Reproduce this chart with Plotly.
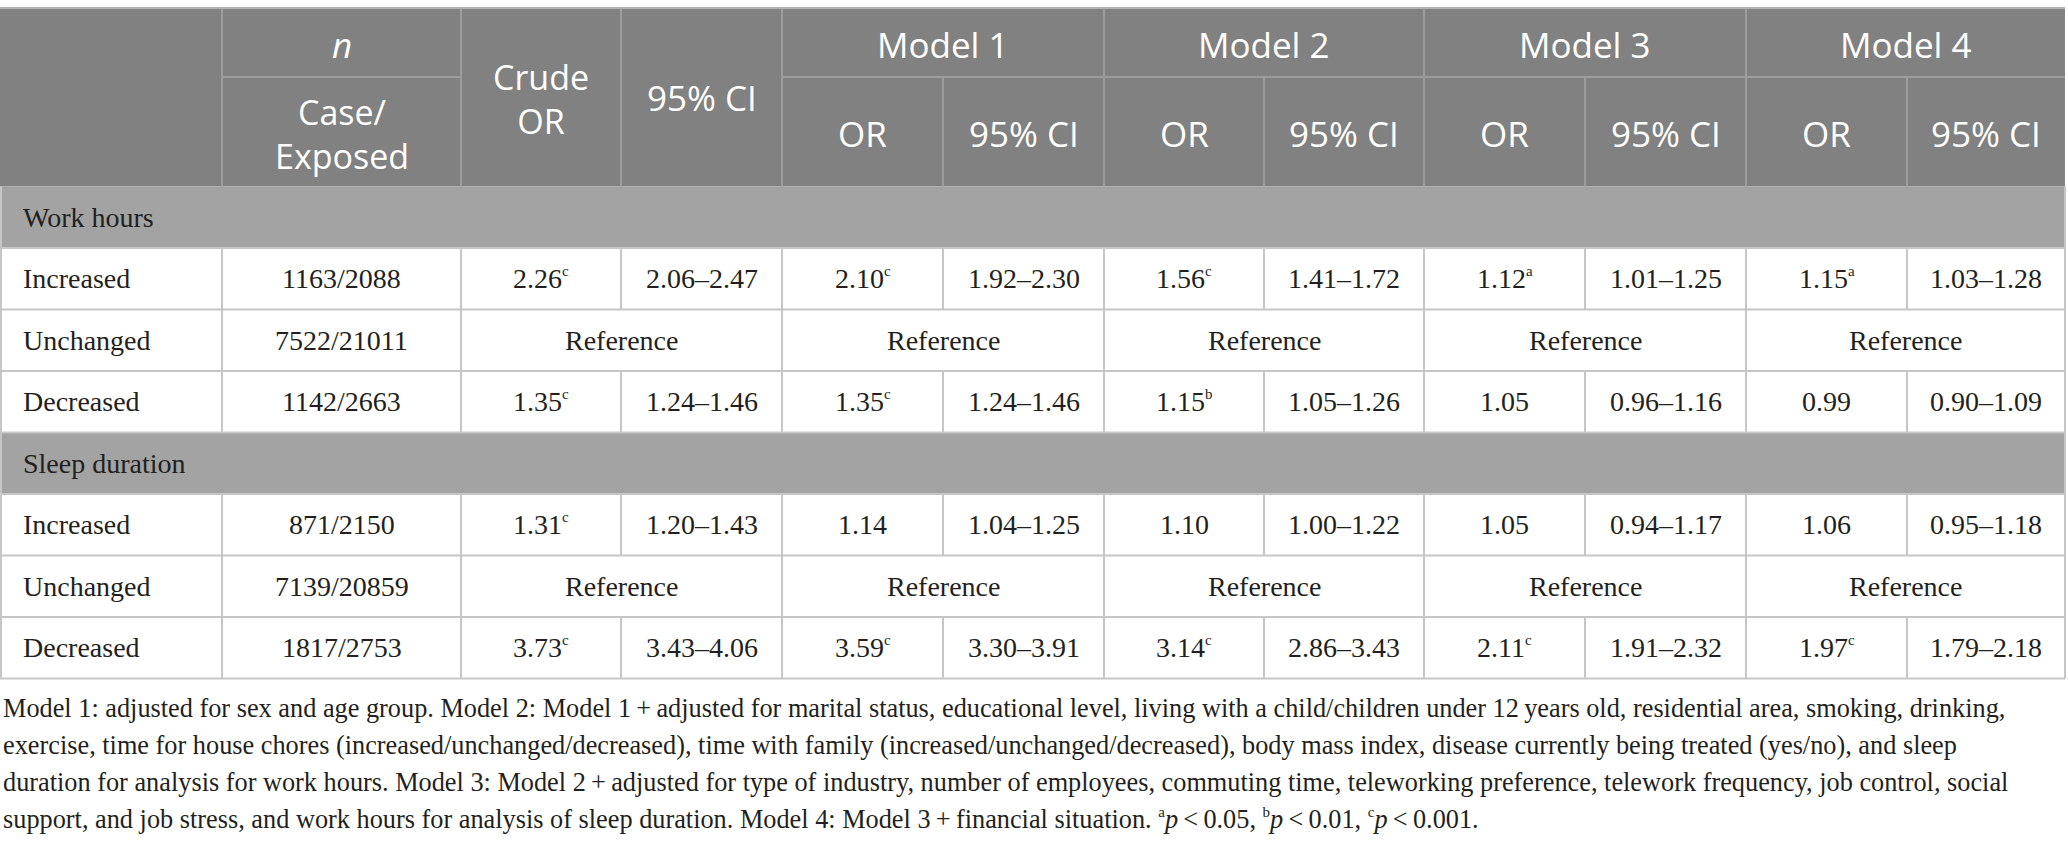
import plotly.graph_objects as go

# ---- table data ----
sections = ["Work hours", "Sleep duration"]
row_labels = ["Increased", "Unchanged", "Decreased", "Increased", "Unchanged", "Decreased"]
case_exposed = ["1163/2088", "7522/21011", "1142/2663", "871/2150", "7139/20859", "1817/2753"]

# None = reference category
crude_or = [2.26, None, 1.35, 1.31, None, 3.73]
crude_sig = ["c", "", "c", "c", "", "c"]
crude_lo = [2.06, None, 1.24, 1.20, None, 3.43]
crude_hi = [2.47, None, 1.46, 1.43, None, 4.06]

m1_or = [2.10, None, 1.35, 1.14, None, 3.59]
m1_sig = ["c", "", "c", "", "", "c"]
m1_lo = [1.92, None, 1.24, 1.04, None, 3.30]
m1_hi = [2.30, None, 1.46, 1.25, None, 3.91]

m2_or = [1.56, None, 1.15, 1.10, None, 3.14]
m2_sig = ["c", "", "b", "", "", "c"]
m2_lo = [1.41, None, 1.05, 1.00, None, 2.86]
m2_hi = [1.72, None, 1.26, 1.22, None, 3.43]

m3_or = [1.12, None, 1.05, 1.05, None, 2.11]
m3_sig = ["a", "", "", "", "", "c"]
m3_lo = [1.01, None, 0.96, 0.94, None, 1.91]
m3_hi = [1.25, None, 1.16, 1.17, None, 2.32]

m4_or = [1.15, None, 0.99, 1.06, None, 1.97]
m4_sig = ["a", "", "", "", "", "c"]
m4_lo = [1.03, None, 0.90, 0.95, None, 1.79]
m4_hi = [1.28, None, 1.09, 1.18, None, 2.18]

model_names = ["Model 1", "Model 2", "Model 3", "Model 4"]

# small superscript like the journal style
SUP = "<sup><span style='font-size:15px'>{}</span></sup>"
footnote_lines = [
    "Model 1: adjusted for sex and age group. Model 2: Model 1\u2009+\u2009adjusted for marital status, educational level, living with a child/children under 12\u2009years old, residential area, smoking, drinking,",
    "exercise, time for house chores (increased/unchanged/decreased), time with family (increased/unchanged/decreased), body mass index, disease currently being treated (yes/no), and sleep",
    "duration for analysis for work hours. Model 3: Model 2\u2009+\u2009adjusted for type of industry, number of employees, commuting time, teleworking preference, telework frequency, job control, social",
    "support, and job stress, and work hours for analysis of sleep duration. Model 4: Model 3\u2009+\u2009financial situation. "
    + SUP.format("a") + "<i>p</i>\u2009&lt;\u20090.05, " + SUP.format("b") + "<i>p</i>\u2009&lt;\u20090.01, "
    + SUP.format("c") + "<i>p</i>\u2009&lt;\u20090.001.",
]

# ---- layout geometry / style ----
W, H = 2068, 847
col_edges = [0, 222, 461, 621, 782, 943, 1104, 1264, 1424, 1585, 1746, 1907, 2065]
top, head_mid, head_bot, row_h = 8, 77, 186.5, 61.5
head_bg = "#808180"
sect_bg = "#a2a3a2"
head_line = "#9c9d9c"
body_line = "#c6c6c6"
txt = "#231f20"
sans = "Open Sans"
serif = "Liberation Serif"

fig = go.Figure()
shapes = []
ann = []


def rect(x0, y0, x1, y1, fill):
    shapes.append(dict(type="rect", x0=x0, y0=y0, x1=x1, y1=y1, fillcolor=fill,
                       line=dict(width=0), layer="below"))


def line(x0, y0, x1, y1, color):
    shapes.append(dict(type="line", x0=x0, y0=y0, x1=x1, y1=y1,
                       line=dict(color=color, width=2)))


def text(x, y, s, size, color, font, anchor="center"):
    ann.append(dict(x=x, y=y, text=s, showarrow=False, xanchor=anchor, yanchor="middle",
                    font=dict(size=size, color=color, family=font)))


def mid(i, j=None):
    j = i + 1 if j is None else j
    return (col_edges[i] + col_edges[j]) / 2


# header
rect(col_edges[0], top, col_edges[-1], head_bot, head_bg)
line(col_edges[1], head_mid, col_edges[2], head_mid, head_line)
line(col_edges[4], head_mid, col_edges[-1], head_mid, head_line)
for k, x in enumerate(col_edges[1:-1], start=1):
    y0 = top if k in (1, 2, 3, 4, 6, 8, 10) else head_mid
    line(x, y0, x, head_bot, head_line)

hs = 35
text(mid(1), 44, "<i>n</i>", hs, "white", sans)
text(mid(1), 134, "Case/<br>Exposed", 34, "white", sans)
text(mid(2), 99, "Crude<br>OR", 34, "white", sans)
text(mid(3), 97, "95% CI", hs, "white", sans)
for m, name in enumerate(model_names):
    c = 4 + 2 * m
    text(mid(c, c + 2), 44, name, hs, "white", sans)
    text(mid(c), 133, "OR", hs, "white", sans)
    text(mid(c + 1), 133, "95% CI", hs, "white", sans)

# body
or_cols = [(crude_or, crude_sig, crude_lo, crude_hi), (m1_or, m1_sig, m1_lo, m1_hi),
           (m2_or, m2_sig, m2_lo, m2_hi), (m3_or, m3_sig, m3_lo, m3_hi),
           (m4_or, m4_sig, m4_lo, m4_hi)]
bs = 28
y = head_bot
r = 0
for s, sec in enumerate(sections):
    rect(col_edges[0], y, col_edges[-1], y + row_h, sect_bg)
    text(21, y + row_h / 2, sec, bs, txt, serif, "left")
    y += row_h
    for _ in range(3):
        line(col_edges[0], y, col_edges[-1], y, body_line)
        cy = y + row_h / 2
        text(21, cy, row_labels[r], bs, txt, serif, "left")
        text(mid(1), cy, case_exposed[r], bs, txt, serif)
        for k, (ors, sig, lo, hi) in enumerate(or_cols):
            c = 2 + 2 * k
            if ors[r] is None:
                text(mid(c, c + 2), cy, "Reference", bs, txt, serif)
            else:
                sup = SUP.format(sig[r]) if sig[r] else ""
                text(mid(c), cy, f"{ors[r]:.2f}{sup}", bs, txt, serif)
                text(mid(c + 1), cy, f"{lo[r]:.2f}\u2013{hi[r]:.2f}", bs, txt, serif)
        for k, x in enumerate(col_edges[1:-1], start=1):
            if ors[r] is None and k % 2 == 1 and k >= 3:
                continue
            line(x, y, x, y + row_h, body_line)
        y += row_h
        r += 1
    line(col_edges[0], y, col_edges[-1], y, body_line)

# outer frame
line(col_edges[0], top, col_edges[-1], top, "#b4b4b4")
line(col_edges[0] + 1, head_bot, col_edges[0] + 1, y, body_line)
line(col_edges[-1], head_bot, col_edges[-1], y, body_line)

# footnote
for i, fl in enumerate(footnote_lines):
    text(1, 708 + 37 * i, fl, 26.3, txt, serif, "left")

fig.add_trace(go.Scatter(x=[0, W], y=[0, H], mode="markers", marker=dict(opacity=0),
                         hoverinfo="skip", showlegend=False))
fig.update_layout(
    width=W, height=H, margin=dict(l=0, r=0, t=0, b=0),
    paper_bgcolor="white", plot_bgcolor="white",
    xaxis=dict(range=[0, W], visible=False, fixedrange=True),
    yaxis=dict(range=[H, 0], visible=False, fixedrange=True),
    shapes=shapes, annotations=ann,
)
fig.write_html("out.html", config={"displayModeBar": False},
               post_script="document.body.style.margin='0';")
